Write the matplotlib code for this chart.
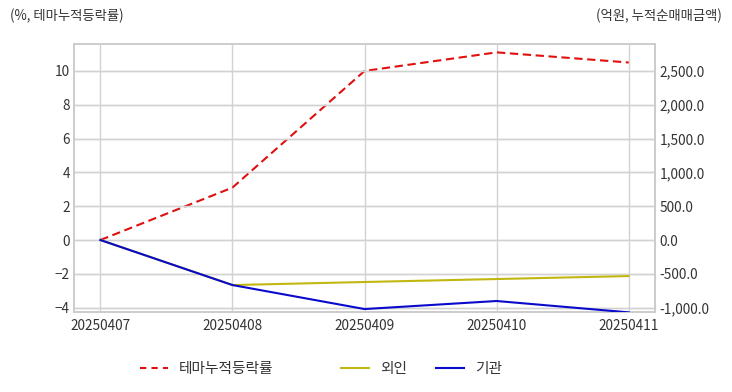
import matplotlib
matplotlib.use("Agg")
import matplotlib.pyplot as plt
from matplotlib.ticker import FuncFormatter, FixedLocator
from matplotlib.lines import Line2D

plt.rcParams['font.family'] = ['Noto Sans CJK KR', 'DejaVu Sans']

dates = ["20250407", "20250408", "20250409", "20250410", "20250411"]
theme = [0.0, 3.1, 10.0, 11.1, 10.5]
foreign = [0.0, -666, -621, -577, -533]
institution = [0.0, -666, -1021, -902, -1070]

left_ticks = [-4, -2, 0, 2, 4, 6, 8, 10]
right_ticks = [-1000, -500, 0, 500, 1000, 1500, 2000, 2500]

txt = '#333333'
grid_c = '#d2d2d2'
red, yellow, blue = '#e01010', '#c0b810', '#0a0acc'
dash = (0, (4, 2.2))

fig = plt.figure(figsize=(7.32, 3.92), dpi=100)
ax = fig.add_axes([0.101, 0.204, 0.794, 0.684])
ax2 = ax.twinx()

x = list(range(len(dates)))
ax.plot(x, theme, color=red, linestyle=dash, linewidth=1.5, zorder=3)
ax2.plot(x, foreign, color=yellow, linewidth=1.5, zorder=2)
ax2.plot(x, institution, color=blue, linewidth=1.5, zorder=3)

ax.set_xlim(-0.2, 4.2)
ax.set_ylim(-4.26, 11.6)
ax2.set_ylim(-4.26 * 250, 11.6 * 250)

ax.set_xticks(x)
ax.set_xticklabels(dates)
ax.yaxis.set_major_locator(FixedLocator(left_ticks))
ax2.yaxis.set_major_locator(FixedLocator(right_ticks))
ax2.yaxis.set_major_formatter(FuncFormatter(lambda v, p: f"{v:,.1f}"))

ax.grid(True, color=grid_c, linewidth=1.0)
ax2.grid(True, axis='y', color=grid_c, linewidth=1.0)
ax.set_axisbelow(True)
ax2.set_axisbelow(True)

for a in (ax, ax2):
    for s in a.spines.values():
        s.set_color('#cccccc')
        s.set_linewidth(1.2)
    a.tick_params(length=0, labelsize=9.8, colors=txt, pad=3)
ax.tick_params(axis='x', pad=5)

fig.text(10 / 732, 1 - 16 / 392, "(%, 테마누적등락률)", fontsize=9.6, color=txt, va='center', ha='left')
fig.text(722 / 732, 1 - 16 / 392, "(억원, 누적순매매금액)", fontsize=9.6, color=txt, va='center', ha='right')

entries = [
    (Line2D([], [], color=red, linestyle=(0, (3, 2.5)), linewidth=1.5), "테마누적등락률", 140),
    (Line2D([], [], color=yellow, linewidth=1.5), "외인", 341),
    (Line2D([], [], color=blue, linewidth=1.5), "기관", 436),
]
for h, lab, px in entries:
    fig.legend([h], [lab], loc='center left', bbox_to_anchor=(px / 732, 1 - 369 / 392),
               frameon=False, fontsize=10.6, handlelength=1.9, handletextpad=0.75,
               borderpad=0, borderaxespad=0, labelcolor=txt)

fig.savefig("out.png", dpi=100, facecolor='white')
